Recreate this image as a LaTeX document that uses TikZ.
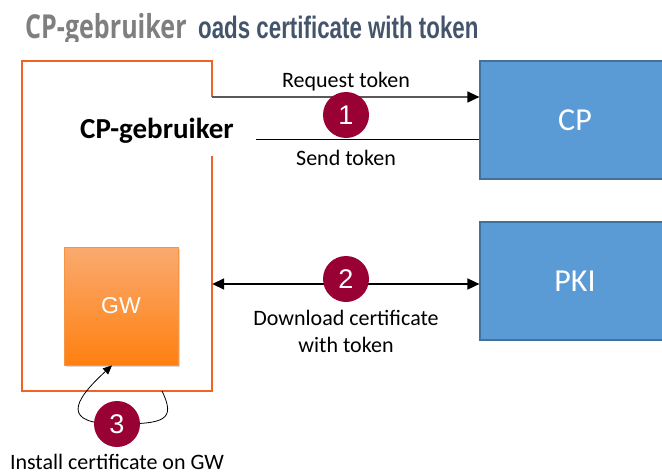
\documentclass[tikz,border=0pt]{standalone}
\usepackage{fontspec}
\setmainfont{Carlito}
\newfontfamily\gwfont{Liberation Sans}
\newfontfamily\grayhead[FakeStretch=0.76]{Open Sans}
\newfontfamily\darkhead[FakeStretch=0.72]{Liberation Sans}
\usepackage{xcolor}
\usepackage{tikz}
\usetikzlibrary{arrows.meta,positioning,shadows}
\definecolor{userorange}{RGB}{240,98,40}
\definecolor{gwtop}{RGB}{250,170,112}
\definecolor{gwbottom}{RGB}{255,128,16}
\definecolor{gwline}{RGB}{245,150,70}
\definecolor{srvfill}{RGB}{91,155,213}
\definecolor{srvline}{RGB}{65,113,156}
\definecolor{stepred}{RGB}{153,0,51}
\definecolor{headgray}{RGB}{127,127,127}
\definecolor{headdark}{RGB}{68,84,106}

\begin{document}
\begin{tikzpicture}[x=1pt,y=-1pt,
 srv/.style={draw=srvline,fill=srvfill,line width=1.2pt,minimum width=190pt,minimum height=118pt,text=white,font=\fontsize{32}{38}\selectfont},
 gw/.style={draw=gwline,top color=gwtop,bottom color=gwbottom,line width=0.8pt,minimum width=114pt,minimum height=118pt,text=white,font=\gwfont\fontsize{23}{28}\selectfont,drop shadow={shadow xshift=2pt,shadow yshift=-2pt,opacity=0.3}},
 num/.style={circle,fill=stepred,minimum size=46pt,inner sep=0pt,text=white,font=\gwfont\fontsize{27}{32}\selectfont},
 lbl/.style={anchor=base,align=center,font=\fontsize{22}{27}\selectfont},
 arr/.style={-{Triangle[length=12pt,width=11pt,color=black]},line width=1.3pt}]
 \useasboundingbox (0,0) rectangle (662,474);
 \clip (0,0) rectangle (662,474);
 % heading, cut off at the bottom
 \begin{scope}
  \clip (0,0) rectangle (662,41);
  \node[anchor=base west,inner sep=0pt,text=headgray,font=\grayhead\bfseries\fontsize{33}{38}\selectfont] (head) at (25,38) {CP-gebruiker};
  \node[anchor=base west,inner sep=0pt,text=headdark,font=\darkhead\bfseries\fontsize{31}{37}\selectfont] (headrest) at (198,38) {oads certificate with token};
 \end{scope}
 \coordinate (reqy) at (0,97);
 \coordinate (gapy) at (0,156);
 \coordinate (sendy) at (0,139);
 \coordinate (dly) at (0,284);
 \coordinate (sendend) at (256,139);
 \coordinate (loopstart) at (162,391);
 \node[minimum width=190pt,minimum height=330pt,inner sep=0pt] (user) at (117,226) {};
 \draw[userorange,line width=1.5pt] (user.east |- reqy) -- (user.north east) -- (user.north west) -- (user.south west) -- (user.south east) -- (user.east |- gapy);
 \node[anchor=base,font=\bfseries\fontsize{29}{34}\selectfont] (userlbl) at (157,138) {CP-gebruiker};
 \node[gw] (gw) at (121,306) {GW};
 \node[srv] (cp) at (575,120) {CP};
 \node[srv] (pki) at (575,281) {PKI};
 % messages
 \draw[arr,draw=black!65] (user.east |- reqy) -- (cp.west |- reqy);
 \draw[line width=1pt] (sendend) -- (cp.west |- sendy);
 \draw[{Triangle[length=12pt,width=11pt]}-{Triangle[length=12pt,width=11pt]},line width=1.6pt] (user.east |- dly) -- (pki.west |- dly);
 \draw[-{Triangle[length=9pt,width=8pt]},line width=0.8pt] (loopstart) .. controls (176,420) and (165,424) .. (117,424) .. controls (62,424) and (72,402) .. ([xshift=-9pt]gw.south);
 \node[num] (one) at (346,115) {1};
 \node[num] (two) at (346,279) {2};
 \node[num] (three) at (117,424) {3};
 \node[lbl] (reqlbl) at (346,87) {Request token};
 \node[lbl] (sendlbl) at (346,165) {Send token};
 \node[lbl] (dllbl) at (346,352) {Download certificate\\with token};
 \node[lbl] (instlbl) at (117,469) {Install certificate on GW};
\end{tikzpicture}
\end{document}
